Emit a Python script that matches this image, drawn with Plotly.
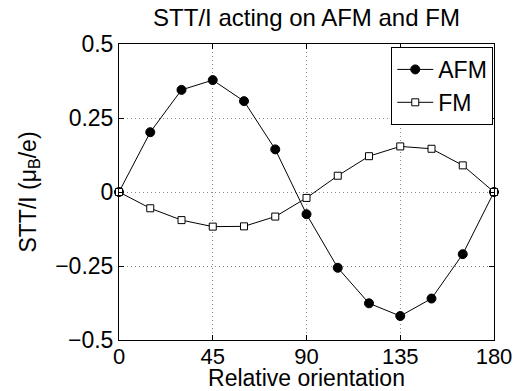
import plotly.graph_objects as go

angles = [0, 15, 30, 45, 60, 75, 90, 105, 120, 135, 150, 165, 180]
afm = [0, 0.202, 0.345, 0.378, 0.307, 0.144, -0.075, -0.256, -0.376, -0.419, -0.360, -0.210, 0]
fm = [0, -0.055, -0.095, -0.117, -0.116, -0.083, -0.020, 0.055, 0.121, 0.154, 0.146, 0.090, 0]

x_ticks = [0, 45, 90, 135, 180]
y_ticks = [-0.5, -0.25, 0, 0.25, 0.5]
y_ticktext = ["\u22120.5", "\u22120.25", "0", "0.25", "0.5"]

FONT = "Liberation Sans, Arial, Helvetica, sans-serif"

fig = go.Figure()
fig.add_trace(go.Scatter(
    x=angles, y=afm, name="AFM", mode="lines+markers",
    line=dict(color="black", width=1),
    marker=dict(symbol="circle", size=9, color="black", line=dict(color="black", width=1)),
    cliponaxis=False,
))
fig.add_trace(go.Scatter(
    x=angles, y=fm, name="FM", mode="lines+markers",
    line=dict(color="black", width=1),
    marker=dict(symbol="square", size=7, color="white", line=dict(color="black", width=1)),
    cliponaxis=False,
))

axis_common = dict(
    showline=True, linecolor="black", linewidth=1, mirror="ticks",
    ticks="inside", ticklen=5, tickcolor="black", tickwidth=1,
    showgrid=True, gridcolor="#8a8a8a", griddash="1px,3px", gridwidth=1,
    zeroline=False, automargin=False,
)

fig.update_xaxes(
    range=[0, 180], tickvals=x_ticks, ticktext=[str(v) for v in x_ticks],
    ticklabelstandoff=-3,
    tickfont=dict(family=FONT, size=22, color="black"),
    title=dict(text="Relative orientation", font=dict(family=FONT, size=23, color="black"), standoff=3),
    **axis_common,
)
fig.update_yaxes(
    range=[-0.5, 0.5], tickvals=y_ticks, ticktext=y_ticktext,
    tickfont=dict(family=FONT, size=23, color="black"),
    title=dict(text="STT/I (\u03bc<sub>B</sub>/e)", font=dict(family=FONT, size=23, color="black"), standoff=12),
    **axis_common,
)

fig.update_layout(
    width=521, height=391,
    margin=dict(l=119, r=27, t=44, b=51, autoexpand=False),
    paper_bgcolor="white", plot_bgcolor="white",
    font=dict(family=FONT, size=23, color="black"),
    title=dict(text="STT/I acting on AFM and FM", x=0.5, xref="paper", xanchor="center",
               y=0.954, yref="container", yanchor="middle",
               font=dict(family=FONT, size=24, color="black")),
    legend=dict(x=0.998, y=0.99, xanchor="right", yanchor="top", xref="paper", yref="paper",
                bgcolor="white", bordercolor="black", borderwidth=1,
                font=dict(family=FONT, size=23, color="black"),
                tracegroupgap=0, itemwidth=36),
    showlegend=True,
)

fig.write_html("out.html", config={"displayModeBar": False},
               post_script="document.body.style.margin='0';")
